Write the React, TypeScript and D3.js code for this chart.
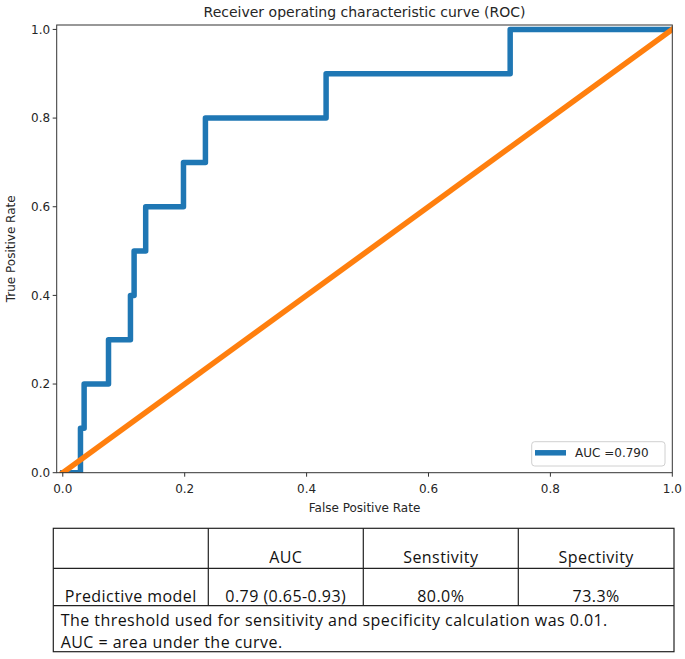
import React from "react";
import * as d3 from "d3";

// ROC curve corner points (as returned by roc_curve)
const fprValues = [0, 0.029, 0.029, 0.035, 0.035, 0.075, 0.075, 0.111, 0.111, 0.117, 0.117, 0.136, 0.136, 0.198, 0.198, 0.234, 0.234, 0.432, 0.432, 0.734, 0.734, 1.0];
const tprValues = [0, 0, 0.1, 0.1, 0.2, 0.2, 0.3, 0.3, 0.4, 0.4, 0.5, 0.5, 0.6, 0.6, 0.7, 0.7, 0.8, 0.8, 0.9, 0.9, 1.0, 1.0];
const chanceFpr = [0, 1];
const chanceTpr = [0, 1];
const tickValues = [0, 0.2, 0.4, 0.6, 0.8, 1.0];
const aucLabel = "AUC =0.790";

const tableHeader = ["", "AUC", "Senstivity", "Spectivity"];
const tableRow = ["Predictive model", "0.79 (0.65-0.93)", "80.0%", "73.3%"];
const tableNotes = [
  "The threshold used for sensitivity and specificity calculation was 0.01.",
  "AUC = area under the curve.",
];

const W = 685;
const H = 659;
const plot = { left: 56.7, right: 672.3, top: 25, bottom: 472.7 };
const BLUE = "#1f77b4";
const ORANGE = "#ff7f0e";
const TXT = "#262626";
const MPL_FONT = "'DejaVu Sans', sans-serif";
const TABLE_FONT = "'Open Sans', Lato, sans-serif";
const TABLE_SIZE = 16;
const TABLE_SPACING = 0.45;

export default function App() {
  const x = d3.scaleLinear().domain([-0.01, 1.0]).range([plot.left, plot.right]);
  const y = d3.scaleLinear().domain([0, 1.01]).range([plot.bottom, plot.top]);
  const fmt = d3.format(".1f");

  const rocPts = fprValues.map((f, i) => [f, tprValues[i]] as [number, number]);
  const chancePts = chanceFpr.map((f, i) => [f, chanceTpr[i]] as [number, number]);
  const line = d3
    .line<[number, number]>()
    .x((d) => x(d[0]))
    .y((d) => y(d[1]));

  // table geometry
  const tLeft = 53.3;
  const tRight = 674;
  const colX = [tLeft, 208.3, 363.3, 518.3, tRight];
  const rowY = [528.3, 568.3, 605.7, 651.7];

  const tableText = {
    fontFamily: TABLE_FONT,
    fontSize: TABLE_SIZE,
    letterSpacing: TABLE_SPACING,
    fill: "#111",
  };

  return (
    <svg
      width={W}
      height={H}
      viewBox={`0 0 ${W} ${H}`}
      style={{ position: "absolute", left: 0, top: 0, background: "#fff" }}
    >
      <rect x={0} y={0} width={W} height={H} fill="#fff" />
      <defs>
        <clipPath id="plotClip">
          <rect x={plot.left} y={plot.top} width={plot.right - plot.left} height={plot.bottom - plot.top} />
        </clipPath>
      </defs>

      {/* Title */}
      <text x={(plot.left + plot.right) / 2} y={16.5} textAnchor="middle" fontFamily={MPL_FONT} fontSize={14} fill={TXT}>
        Receiver operating characteristic curve (ROC)
      </text>

      {/* Lines */}
      <g clipPath="url(#plotClip)">
        <path d={line(rocPts) || ""} fill="none" stroke={BLUE} strokeWidth={5.5} strokeLinejoin="round" strokeLinecap="square" />
        <path d={line(chancePts) || ""} fill="none" stroke={ORANGE} strokeWidth={5.5} strokeLinecap="square" />
      </g>

      {/* Spines */}
      <rect
        x={plot.left}
        y={plot.top}
        width={plot.right - plot.left}
        height={plot.bottom - plot.top}
        fill="none"
        stroke="#333"
        strokeWidth={1}
      />

      {/* X ticks */}
      {tickValues.map((t) => (
        <g key={"x" + t}>
          <line x1={x(t)} x2={x(t)} y1={plot.bottom} y2={plot.bottom + 4} stroke="#333" strokeWidth={1} />
          <text x={x(t)} y={493} textAnchor="middle" fontFamily={MPL_FONT} fontSize={12} fill={TXT}>
            {fmt(t)}
          </text>
        </g>
      ))}
      {/* Y ticks */}
      {tickValues.map((t) => (
        <g key={"y" + t}>
          <line x1={plot.left - 4} x2={plot.left} y1={y(t)} y2={y(t)} stroke="#333" strokeWidth={1} />
          <text x={plot.left - 6.5} y={y(t) + 4.3} textAnchor="end" fontFamily={MPL_FONT} fontSize={12} fill={TXT}>
            {fmt(t)}
          </text>
        </g>
      ))}

      {/* Axis labels */}
      <text x={(plot.left + plot.right) / 2} y={512} textAnchor="middle" fontFamily={MPL_FONT} fontSize={12} fill={TXT}>
        False Positive Rate
      </text>
      <text
        transform={`translate(15, ${(plot.top + plot.bottom) / 2}) rotate(-90)`}
        textAnchor="middle"
        fontFamily={MPL_FONT}
        fontSize={12}
        fill={TXT}
      >
        True Positive Rate
      </text>

      {/* Legend */}
      <rect x={531.7} y={441.7} width={133.3} height={24.3} rx={3} ry={3} fill="#fff" fillOpacity={0.8} stroke="#d0d0d0" strokeWidth={1} />
      <line x1={535} x2={566} y1={452.8} y2={452.8} stroke={BLUE} strokeWidth={5.5} />
      <text x={575} y={457} fontFamily={MPL_FONT} fontSize={12} fill={TXT}>
        {aucLabel}
      </text>

      {/* Table */}
      <g stroke="#222" strokeWidth={1.2} fill="none">
        <rect x={tLeft} y={rowY[0]} width={tRight - tLeft} height={rowY[3] - rowY[0]} />
        <line x1={tLeft} x2={tRight} y1={rowY[1]} y2={rowY[1]} />
        <line x1={tLeft} x2={tRight} y1={rowY[2]} y2={rowY[2]} />
        {colX.slice(1, 4).map((cx) => (
          <line key={"c" + cx} x1={cx} x2={cx} y1={rowY[0]} y2={rowY[2]} />
        ))}
      </g>
      {tableHeader.map((h, i) => (
        <text key={"h" + i} x={(colX[i] + colX[i + 1]) / 2} y={563.3} textAnchor="middle" {...tableText}>
          {h}
        </text>
      ))}
      {tableRow.map((v, i) => (
        <text key={"r" + i} x={(colX[i] + colX[i + 1]) / 2} y={602.3} textAnchor="middle" {...tableText}>
          {v}
        </text>
      ))}
      {tableNotes.map((n, i) => (
        <text key={"n" + i} x={60.7} y={625.5 + i * 22} {...tableText}>
          {n}
        </text>
      ))}
    </svg>
  );
}
